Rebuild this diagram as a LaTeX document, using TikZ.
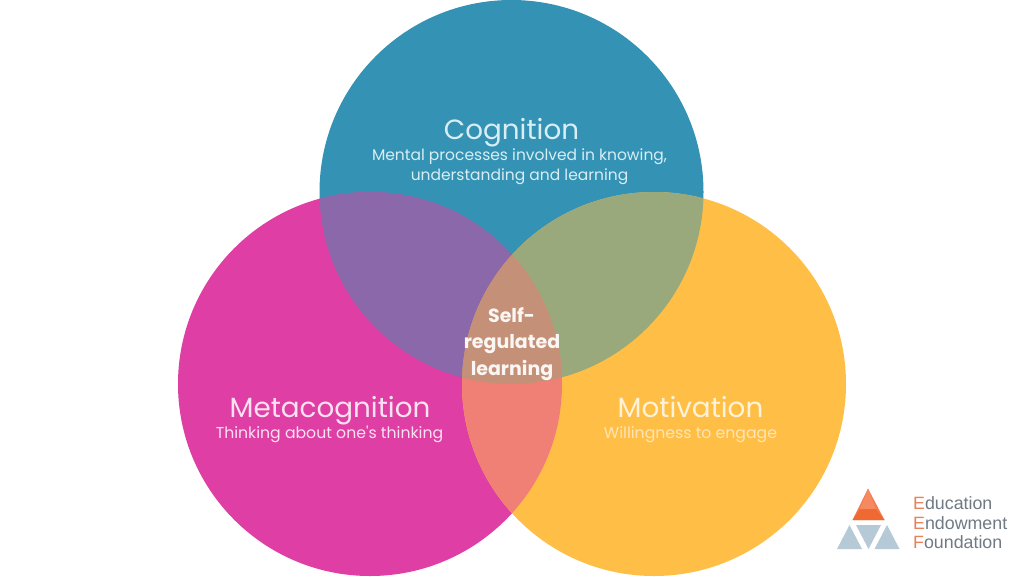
\documentclass[tikz,border=0pt]{standalone}
\usepackage{fontspec}
\setmainfont{Poppins}
\newfontfamily\logofont{Liberation Sans}
\newfontfamily\straightfont[Ligatures=ResetAll]{Poppins}
\definecolor{cogn}{HTML}{3492B4}
\definecolor{meta}{HTML}{DF3EA4}
\definecolor{moti}{HTML}{FFBF47}
\definecolor{cogmeta}{HTML}{8A68AA}
\definecolor{cogmoti}{HTML}{99A97B}
\definecolor{metamoti}{HTML}{F07F75}
\definecolor{centre}{HTML}{C49178}
\definecolor{captxt}{HTML}{D8EEF4}
\definecolor{logoblue}{HTML}{B5CAD6}
\definecolor{logotxt}{HTML}{6F7A84}
\definecolor{logoorange}{HTML}{E8805A}
\definecolor{logomid}{HTML}{F47B4E}
\definecolor{logotop}{HTML}{F58A60}
\definecolor{logobase}{HTML}{EE6A32}
\tikzset{
  title/.style={text=#1,font=\fontsize{27.8}{30}\selectfont,anchor=base,inner sep=0pt},
  sub/.style={text=#1,font=\fontsize{15.7}{20}\selectfont,anchor=base,inner sep=0pt},
  mid/.style={text=white!92!centre,font=\fontsize{19}{22}\selectfont\bfseries,anchor=base,inner sep=0pt},
  logoword/.style={text=logotxt,font=\logofont\fontsize{17.8}{20}\selectfont,anchor=base west,inner sep=0pt},
}
\newcommand{\ctop}{(511.5,192) circle (192)}
\newcommand{\cleft}{(370,384) circle (192)}
\newcommand{\cright}{(654,384) circle (192)}
\begin{document}
\begin{tikzpicture}[x=1pt,y=-1pt]
\useasboundingbox (0,0) rectangle (1024,576);
\fill[white] (0,0) rectangle (1024,576);
\fill[cogn] \ctop;
\fill[meta] \cleft;
\fill[moti] \cright;
\begin{scope}\clip \ctop; \fill[cogmeta] \cleft; \fill[cogmoti] \cright; \end{scope}
\begin{scope}\clip \cleft; \fill[metamoti] \cright; \end{scope}
\begin{scope}\clip \ctop; \clip \cleft; \fill[centre] \cright; \end{scope}
\node[title=captxt] (cogt) at (511.5,139) {Cognition};
\node[sub=captxt,font=\fontsize{15.5}{20}\selectfont] (cogs1) at (519.5,160) {Mental processes involved in knowing,};
\node[sub=captxt,font=\fontsize{15.5}{20}\selectfont] (cogs2) at (519.5,180) {understanding and learning};
\node[title=white!85!meta] (metat) at (330,417.5) {Metacognition};
\node[sub=white!85!meta] (metas) at (329.5,438) {{\straightfont Thinking about one's thinking}};
\node[title=white!80!moti] (motit) at (690.5,417.5) {Motivation};
\node[sub=white!60!moti] (motis) at (690.5,438) {Willingness to engage};
\node[mid] (m1) at (511.5,322) {Self-};
\node[mid] (m2) at (512,348) {regulated};
\node[mid] (m3) at (512,375) {learning};
% logo
\fill[logomid] (868,488.5) -- (884.5,520) -- (852.5,520) -- cycle;
\fill[logotop] (868,488.5) -- (876,509) -- (860,509) -- cycle;
\fill[logobase] (860,509) -- (876,509) -- (884.5,520) -- (852.5,520) -- cycle;
\fill[logoblue] (849.5,525) -- (862,549) -- (837,549) -- cycle;
\fill[logoblue] (856,525) -- (881,525) -- (868.5,549) -- cycle;
\fill[logoblue] (887,525) -- (899.5,549) -- (874.5,549) -- cycle;
\node[logoword] (l1) at (913,509) {\textcolor{logoorange}{E}ducation};
\node[logoword] (l2) at (913,529) {\textcolor{logoorange}{E}ndowment};
\node[logoword] (l3) at (913,548.5) {\textcolor{logoorange}{F}oundation};
\end{tikzpicture}
\end{document}
